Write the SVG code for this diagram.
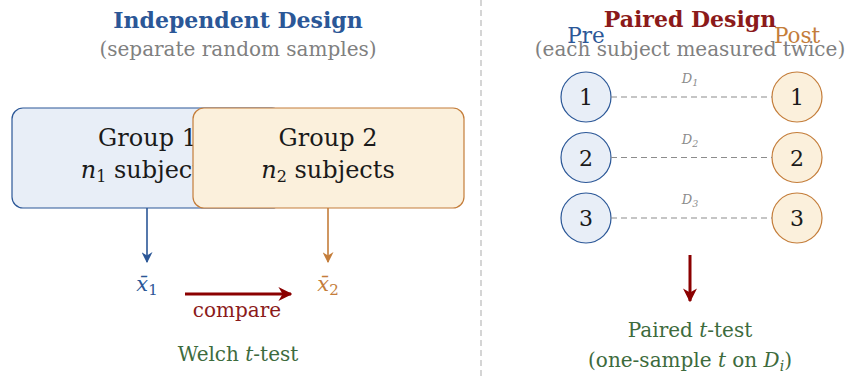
<svg xmlns="http://www.w3.org/2000/svg" width="851" height="377" viewBox="0 0 851 377">
  <style>
    text { font-family: "DejaVu Serif", "Liberation Serif", serif; }
    .title { font-size: 22px; font-weight: bold; text-anchor: middle; }
    .sub { font-size: 20px; fill: #808080; text-anchor: middle; }
    .box-label { font-size: 24px; fill: #1a1a1a; text-anchor: middle; }
    .blue { fill: #2b5797; }
    .orange { fill: #c47d3a; }
    .red { fill: #8b1a1a; }
    .green { fill: #3d6b3d; }
    .pre { fill: #e8eef7; stroke: #2b5797; stroke-width: 1.2; }
    .post { fill: #fbf0dc; stroke: #c47d3a; stroke-width: 1.2; }
    .num { font-size: 22px; fill: #1a1a1a; text-anchor: middle; }
    .link { stroke: #8c8c8c; stroke-width: 1.2; stroke-dasharray: 6 4; fill: none; }
    .dlabel { font-size: 13px; fill: #8c8c8c; font-style: italic; text-anchor: middle; }
    .note { font-size: 20px; text-anchor: middle; }
  </style>
  <defs>
    <marker id="headBlue" viewBox="0 0 10 10" refX="9" refY="5" markerWidth="11" markerHeight="11" markerUnits="userSpaceOnUse" orient="auto">
      <path d="M0,0 L10,5 L0,10 L3,5 Z" fill="#2b5797"/>
    </marker>
    <marker id="headOrange" viewBox="0 0 10 10" refX="9" refY="5" markerWidth="11" markerHeight="11" markerUnits="userSpaceOnUse" orient="auto">
      <path d="M0,0 L10,5 L0,10 L3,5 Z" fill="#c47d3a"/>
    </marker>
    <marker id="headRed" viewBox="0 0 10 10" refX="9" refY="5" markerWidth="14" markerHeight="14" markerUnits="userSpaceOnUse" orient="auto">
      <path d="M0,0 L10,5 L0,10 L3,5 Z" fill="#8b0000"/>
    </marker>
  </defs>

  <!-- divider between the two panels -->
  <line x1="481" y1="0" x2="481" y2="377" stroke="#c8c8c8" stroke-width="1.5" stroke-dasharray="6 4"/>

  <!-- left panel headings -->
  <g id="independent-heading">
    <text class="title blue" x="238" y="28">Independent Design</text>
    <text class="sub" x="238" y="56">(separate random samples)</text>
  </g>

  <!-- group boxes -->
  <g id="group1">
    <rect class="pre" x="12" y="108" width="271" height="100" rx="11"/>
    <text class="box-label" x="147.5" y="146">Group 1</text>
    <text class="box-label" x="147.5" y="178"><tspan font-style="italic">n</tspan><tspan font-size="16" dy="4">1</tspan><tspan dy="-4"> subjects</tspan></text>
  </g>
  <g id="group2">
    <rect class="post" x="193" y="108" width="271" height="100" rx="11"/>
    <text class="box-label" x="328" y="146">Group 2</text>
    <text class="box-label" x="328" y="178"><tspan font-style="italic">n</tspan><tspan font-size="16" dy="4">2</tspan><tspan dy="-4"> subjects</tspan></text>
  </g>

  <!-- sample means -->
  <g id="mean1">
    <text class="blue" font-size="21" x="147" y="291" text-anchor="middle"><tspan font-style="italic">x̄</tspan><tspan font-size="15" dy="4">1</tspan></text>
  </g>
  <g id="mean2">
    <text class="orange" font-size="21" x="328" y="291" text-anchor="middle"><tspan font-style="italic">x̄</tspan><tspan font-size="15" dy="4">2</tspan></text>
  </g>

  <g id="welch">
    <text class="note red" x="237" y="317">compare</text>
    <text class="note green" x="238" y="361">Welch <tspan font-style="italic">t</tspan>-test</text>
  </g>

  <!-- right panel headings -->
  <g id="paired-heading">
    <text class="title red" x="690" y="27">Paired Design</text>
    <text class="sub" x="690" y="56">(each subject measured twice)</text>
    <text class="blue" font-size="21.5" x="586" y="43" text-anchor="middle">Pre</text>
    <text class="orange" font-size="21.5" x="797" y="43" text-anchor="middle">Post</text>
  </g>

  <!-- subjects measured before and after -->
  <g id="pre1"><circle class="pre" cx="586" cy="97" r="25"/><text class="num" x="586" y="105">1</text></g>
  <g id="pre2"><circle class="pre" cx="586" cy="157.5" r="25"/><text class="num" x="586" y="165.5">2</text></g>
  <g id="pre3"><circle class="pre" cx="586" cy="218" r="25"/><text class="num" x="586" y="226">3</text></g>
  <g id="post1"><circle class="post" cx="797" cy="97" r="25"/><text class="num" x="797" y="105">1</text></g>
  <g id="post2"><circle class="post" cx="797" cy="157.5" r="25"/><text class="num" x="797" y="165.5">2</text></g>
  <g id="post3"><circle class="post" cx="797" cy="218" r="25"/><text class="num" x="797" y="226">3</text></g>

  <g id="paired-result">
    <text class="note green" x="690" y="337">Paired <tspan font-style="italic">t</tspan>-test</text>
    <text class="note green" x="690" y="367">(one-sample <tspan font-style="italic">t</tspan> on <tspan font-style="italic">D</tspan><tspan font-style="italic" font-size="14" dy="4">i</tspan><tspan dy="-4">)</tspan></text>
  </g>

  <!-- connectors -->
  <g id="connectors">
    <line x1="147" y1="208" x2="147" y2="262" stroke="#2b5797" stroke-width="1.6" marker-end="url(#headBlue)"/>
    <line x1="328" y1="208" x2="328" y2="262" stroke="#c47d3a" stroke-width="1.6" marker-end="url(#headOrange)"/>
    <line x1="185" y1="294" x2="291" y2="294" stroke="#8b0000" stroke-width="3" marker-end="url(#headRed)"/>
    <line x1="611" y1="97" x2="772" y2="97" class="link"/>
    <line x1="611" y1="157.5" x2="772" y2="157.5" class="link"/>
    <line x1="611" y1="218" x2="772" y2="218" class="link"/>
    <text class="dlabel" x="690" y="83">D<tspan font-size="9.5" dy="3">1</tspan></text>
    <text class="dlabel" x="690" y="143.5">D<tspan font-size="9.5" dy="3">2</tspan></text>
    <text class="dlabel" x="690" y="204">D<tspan font-size="9.5" dy="3">3</tspan></text>
    <line x1="690" y1="255" x2="690" y2="301" stroke="#8b0000" stroke-width="3" marker-end="url(#headRed)"/>
  </g>
</svg>
